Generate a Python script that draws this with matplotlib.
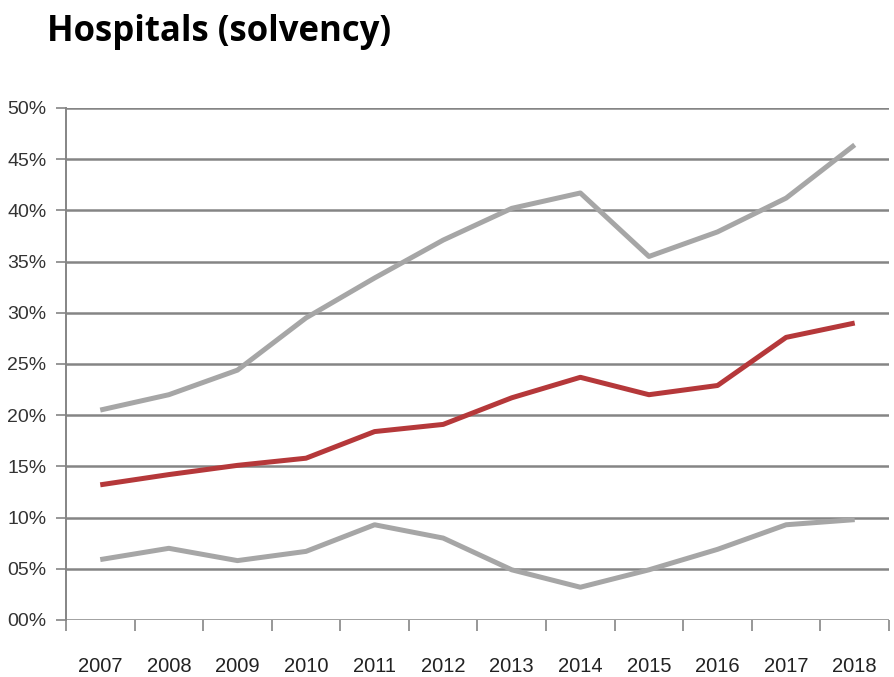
import matplotlib
matplotlib.use('Agg')
import matplotlib.pyplot as plt
from matplotlib.ticker import FixedLocator

years = ['2007', '2008', '2009', '2010', '2011', '2012',
         '2013', '2014', '2015', '2016', '2017', '2018']
upper = [20.5, 22.0, 24.4, 29.5, 33.4, 37.1, 40.2, 41.7, 35.5, 37.9, 41.2, 46.4]
median = [13.2, 14.2, 15.1, 15.8, 18.4, 19.1, 21.7, 23.7, 22.0, 22.9, 27.6, 29.0]
lower = [5.9, 7.0, 5.8, 6.7, 9.3, 8.0, 4.9, 3.2, 4.9, 6.9, 9.3, 9.8]
yticks = [0, 5, 10, 15, 20, 25, 30, 35, 40, 45, 50]
ytick_labels = ['00%', '05%', '10%', '15%', '20%', '25%',
                '30%', '35%', '40%', '45%', '50%']

narrow = ['Liberation Sans', 'DejaVu Sans']

fig = plt.figure(figsize=(8.95, 6.77), dpi=100)
ax = fig.add_axes([0.0737, 0.0842, 0.9196, 0.7563])

x = list(range(len(years)))
ax.plot(x, upper, color='#a6a6a6', lw=3.6, solid_capstyle='butt', zorder=3)
ax.plot(x, median, color='#b5383a', lw=3.6, solid_capstyle='butt', zorder=3)
ax.plot(x, lower, color='#a6a6a6', lw=3.6, solid_capstyle='butt', zorder=3)

ax.set_xlim(-0.5, len(years) - 0.5)
ax.set_ylim(0, 50)

for y in yticks:
    ax.axhline(y, color='#858585', lw=1.8, zorder=1)

ax.set_yticks(yticks)
ax.set_yticklabels(ytick_labels, family=narrow, fontsize=14, color='#333333')
ax.xaxis.set_major_locator(FixedLocator([i - 0.5 for i in range(len(years) + 1)]))
ax.xaxis.set_minor_locator(FixedLocator(x))
ax.set_xticklabels([''] * (len(years) + 1))
ax.set_xticklabels(years, minor=True, family=narrow, fontsize=14.5, color='#222222')
ax.tick_params(axis='x', which='major', length=8, width=1.2, color='#858585', direction='out')
ax.tick_params(axis='x', which='minor', length=0, pad=27)
ax.tick_params(axis='y', length=7, width=1.2, color='#858585', pad=7)

for s in ['top', 'right', 'bottom']:
    ax.spines[s].set_visible(False)
ax.spines['left'].set_color('#858585')
ax.spines['left'].set_linewidth(1.4)

fig.text(0.053, 0.953, 'Hospitals (solvency)', fontsize=25, fontweight='bold',
         family=['Open Sans', 'DejaVu Sans'], va='center', ha='left')

fig.savefig('out.png', dpi=100)
